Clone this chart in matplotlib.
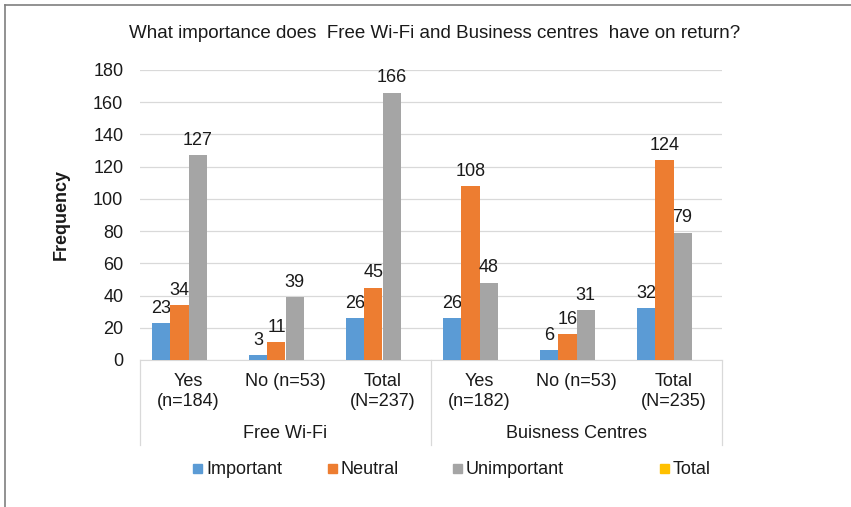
import matplotlib
matplotlib.use("Agg")
import matplotlib.pyplot as plt
from matplotlib.lines import Line2D
from matplotlib.patches import Rectangle
import numpy as np

plt.rcParams['font.family'] = ['Liberation Sans', 'DejaVu Sans']

categories = ["Yes\n(n=184)", "No (n=53)", "Total\n(N=237)", "Yes\n(n=182)", "No (n=53)", "Total\n(N=235)"]
groups = ["Free Wi-Fi", "Buisness Centres"]
series_names = ["Important", "Neutral", "Unimportant", "Total"]
important = [23, 3, 26, 26, 6, 32]
neutral = [34, 11, 45, 108, 16, 124]
unimportant = [127, 39, 166, 48, 31, 79]
total = [None] * 6
colors = ["#5B9BD5", "#ED7D31", "#A5A5A5", "#FFC000"]

FS = 13
TXT = '#1a1a1a'

fig = plt.figure(figsize=(8.51, 5.07), dpi=100)
ax = fig.add_axes([140/851, 1-360/507, 582/851, 290/507])

x = np.arange(len(categories))
w = 0.186
all_series = [important, neutral, unimportant, total]
for i, (vals, c) in enumerate(zip(all_series, colors)):
    off = (i - 1.5) * w
    if all(t is None for t in vals):
        continue
    ax.bar(x + off, vals, width=w, color=c, zorder=3)
    for xi, val in zip(x + off, vals):
        ax.annotate(str(val), (xi, val), xytext=(0, 4.5), textcoords='offset points',
                    ha='center', va='bottom', fontsize=FS, color=TXT)

ax.set_xlim(-0.5, len(categories) - 0.5)
ax.set_ylim(0, 180)
ax.set_yticks(range(0, 181, 20))
ax.tick_params(axis='y', length=0, labelsize=FS, pad=12, colors=TXT)
ax.yaxis.grid(True, color='#d9d9d9', linewidth=0.9, zorder=0)
ax.set_axisbelow(True)
for s in ['top', 'right', 'left']:
    ax.spines[s].set_visible(False)
ax.spines['bottom'].set_color('#d9d9d9')
ax.set_xticks([])
ax.set_ylabel("Frequency", fontsize=13, fontweight='bold', labelpad=17, color=TXT)

# category labels
trans = ax.get_xaxis_transform()
for xi, lab in zip(x, categories):
    ax.text(xi, -13/290, lab, transform=trans, ha='center', va='top', fontsize=FS,
            color=TXT, linespacing=1.25)
for gi, g in enumerate(groups):
    ax.text(gi * 3 + 1, -73/290, g, transform=trans, ha='center', va='center',
            fontsize=FS, color=TXT)
for xb in [-0.5, 2.5, 5.5]:
    ax.add_line(Line2D([xb, xb], [0, -85/290], transform=trans, color='#d9d9d9',
                       linewidth=0.9, clip_on=False))

fig.text(435/851, 1-33/507, "What importance does  Free Wi-Fi and Business centres  have on return?",
         ha='center', va='center', fontsize=13.5, color=TXT)

# legend (manual placement like the original)
leg_x = [197, 332, 457, 664]
ly = 469
for lx, name, c in zip(leg_x, series_names, colors):
    fig.add_artist(Rectangle(((lx - 4) / 851, 1 - (ly + 4) / 507), 9 / 851, 9 / 507,
                             transform=fig.transFigure, color=c))
    fig.text((lx + 9) / 851, 1 - ly / 507, name, ha='left', va='center',
             fontsize=FS, color=TXT)

# outer border (top and left)
fig.add_artist(Line2D([5/851, 1], [1-5/507, 1-5/507], color='#7f7f7f', linewidth=1.2))
fig.add_artist(Line2D([5/851, 5/851], [0, 1-5/507], color='#7f7f7f', linewidth=1.2))

fig.savefig("out.png", dpi=100)
